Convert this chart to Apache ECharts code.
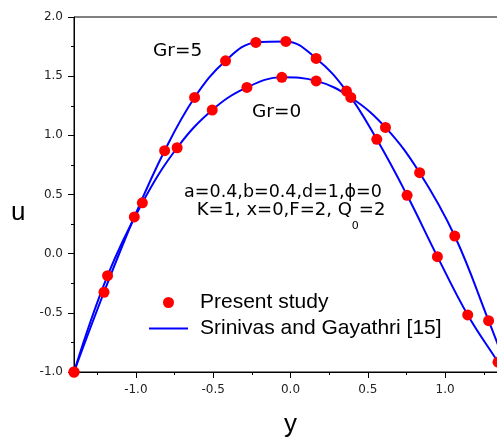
<!DOCTYPE html>
<html>
<head>
<meta charset="utf-8">
<script src="https://cdn.jsdelivr.net/npm/echarts@6/dist/echarts.min.js"></script>
<style>
html, body { margin: 0; padding: 0; background: #fff; }
#chart { width: 497px; height: 439px; }
</style>
</head>
<body>
<div id="chart"></div>
<script>
// present study, dots
var gr5Y = [-1.4, -1.206, -1.01, -0.814, -0.62, -0.42, -0.224, -0.03, 0.166, 0.362, 0.558, 0.754, 0.95, 1.146, 1.342];
var gr5U = [-1.0, -0.326, 0.31, 0.87, 1.32, 1.63, 1.785, 1.794, 1.65, 1.374, 0.966, 0.493, -0.025, -0.518, -0.917];
var gr0Y = [-1.4, -1.183, -0.958, -0.733, -0.506, -0.282, -0.056, 0.166, 0.39, 0.614, 0.835, 1.062, 1.281];
var gr0U = [-1.0, -0.186, 0.43, 0.895, 1.214, 1.405, 1.49, 1.46, 1.32, 1.067, 0.684, 0.149, -0.566];

// Srinivas and Gayathri curves
var line5Y = [-1.4, -1.206, -1.01, -0.814, -0.62, -0.42, -0.224, -0.03, 0.166, 0.362, 0.558, 0.754, 0.95, 1.146, 1.342, 1.38];
var line5U = [-1.0, -0.326, 0.31, 0.87, 1.32, 1.63, 1.785, 1.794, 1.65, 1.374, 0.966, 0.493, -0.025, -0.518, -0.917, -1.0];
var line0Y = [-1.4, -1.183, -0.958, -0.733, -0.506, -0.282, -0.056, 0.166, 0.39, 0.614, 0.835, 1.062, 1.281, 1.4];
var line0U = [-1.0, -0.186, 0.43, 0.895, 1.214, 1.405, 1.49, 1.46, 1.32, 1.067, 0.684, 0.149, -0.566, -0.97];

var xMajor = [-1.0, -0.5, 0.0, 0.5, 1.0];
var xMinor = [-1.25, -0.75, -0.25, 0.25, 0.75, 1.25];

var FONT = 'Liberation Sans, Arial, sans-serif';
var WIDE = 'DejaVu Sans, sans-serif';

function zip(a, b) {
	var out = [];
	for (var i = 0; i < a.length; i++) out.push([a[i], b[i]]);
	return out;
}

var chart = echarts.init(document.getElementById('chart'));
chart.setOption({
	animation: false,
	grid: {
		left: 74, top: 17, width: 433, height: 355,
		outerBoundsMode: 'none',
		show: true, borderColor: '#000', borderWidth: 1
	},
	legend: {
		orient: 'vertical',
		left: 143, top: 287,
		itemWidth: 39, itemHeight: 11, itemGap: 5,
		textStyle: { fontSize: 21, color: '#000', fontFamily: FONT, padding: [0, 0, 0, 7] },
		data: [
			{ name: 'Present study', icon: 'circle' },
			{ name: 'Srinivas and Gayathri [15]', itemStyle: { opacity: 0 } }
		]
	},
	xAxis: [{
		type: 'value', min: -1.4, max: 1.4, position: 'bottom',
		axisLine: { onZero: false, lineStyle: { color: '#000', width: 1 } },
		axisTick: { customValues: xMajor, length: 6, lineStyle: { color: '#000' } },
		axisLabel: {
			customValues: xMajor, margin: 12, fontSize: 12, color: '#222', fontFamily: WIDE,
			formatter: function (v) { return v.toFixed(1); }
		},
		splitLine: { show: false },
		name: 'y', nameLocation: 'middle', nameGap: 40,
		nameTextStyle: { fontSize: 26, color: '#000', fontFamily: FONT }
	}, {
		type: 'value', min: -1.4, max: 1.4, position: 'bottom',
		axisLine: { show: false, onZero: false },
		axisTick: { customValues: xMinor, length: 3, lineStyle: { color: '#000' } },
		axisLabel: { show: false },
		splitLine: { show: false }
	}],
	yAxis: {
		type: 'value', min: -1, max: 2, interval: 0.5,
		axisLine: { onZero: false, lineStyle: { color: '#000', width: 1 } },
		axisTick: { length: 6, lineStyle: { color: '#000' } },
		minorTick: { show: true, splitNumber: 2, length: 3, lineStyle: { color: '#000' } },
		axisLabel: {
			margin: 11, fontSize: 12, color: '#222', fontFamily: WIDE,
			formatter: function (v) { return v.toFixed(1); }
		},
		splitLine: { show: false }
	},
	graphic: [
		{ type: 'text', style: { text: 'u', x: 11, y: 213, fontSize: 26, fontFamily: FONT, fill: '#000', verticalAlign: 'middle' } },
		{ type: 'text', style: { text: 'Gr=5', x: 153, y: 51, fontSize: 18.5, fontFamily: WIDE, fill: '#000', verticalAlign: 'middle' } },
		{ type: 'text', style: { text: 'Gr=0', x: 252, y: 112, fontSize: 18.5, fontFamily: WIDE, fill: '#000', verticalAlign: 'middle' } },
		{ type: 'text', style: { text: 'a=0.4,b=0.4,d=1,\u03d5=0', x: 283, y: 192, fontSize: 17.5, fontFamily: WIDE, fill: '#000', align: 'center', verticalAlign: 'middle' } },
		{ type: 'text', style: {
			text: '{m|K=1, x=0,F=2, Q}{s|0}{m|=2}', x: 291, y: 210, fill: '#000', align: 'center', verticalAlign: 'middle',
			rich: {
				m: { fontSize: 18, fontFamily: WIDE, fill: '#000' },
				s: { fontSize: 11, fontFamily: WIDE, fill: '#000', padding: [32, 0, 0, 0] }
			}
		} }
	],
	series: [
		{ name: 'Srinivas and Gayathri [15]', type: 'line', xAxisIndex: 0, data: zip(line5Y, line5U), smooth: 0.4, symbol: 'none', lineStyle: { color: '#0000ff', width: 2 }, itemStyle: { color: '#0000ff' }, z: 2 },
		{ name: 'Srinivas and Gayathri [15]', type: 'line', xAxisIndex: 0, data: zip(line0Y, line0U), smooth: 0.4, symbol: 'none', lineStyle: { color: '#0000ff', width: 2 }, itemStyle: { color: '#0000ff' }, z: 2 },
		{ name: 'Present study', type: 'scatter', xAxisIndex: 0, data: zip(gr5Y, gr5U), symbolSize: 11, itemStyle: { color: '#ff0000', opacity: 1 }, z: 3 },
		{ name: 'Present study', type: 'scatter', xAxisIndex: 0, data: zip(gr0Y, gr0U), symbolSize: 11, itemStyle: { color: '#ff0000', opacity: 1 }, z: 3 }
	]
});
</script>
</body>
</html>
